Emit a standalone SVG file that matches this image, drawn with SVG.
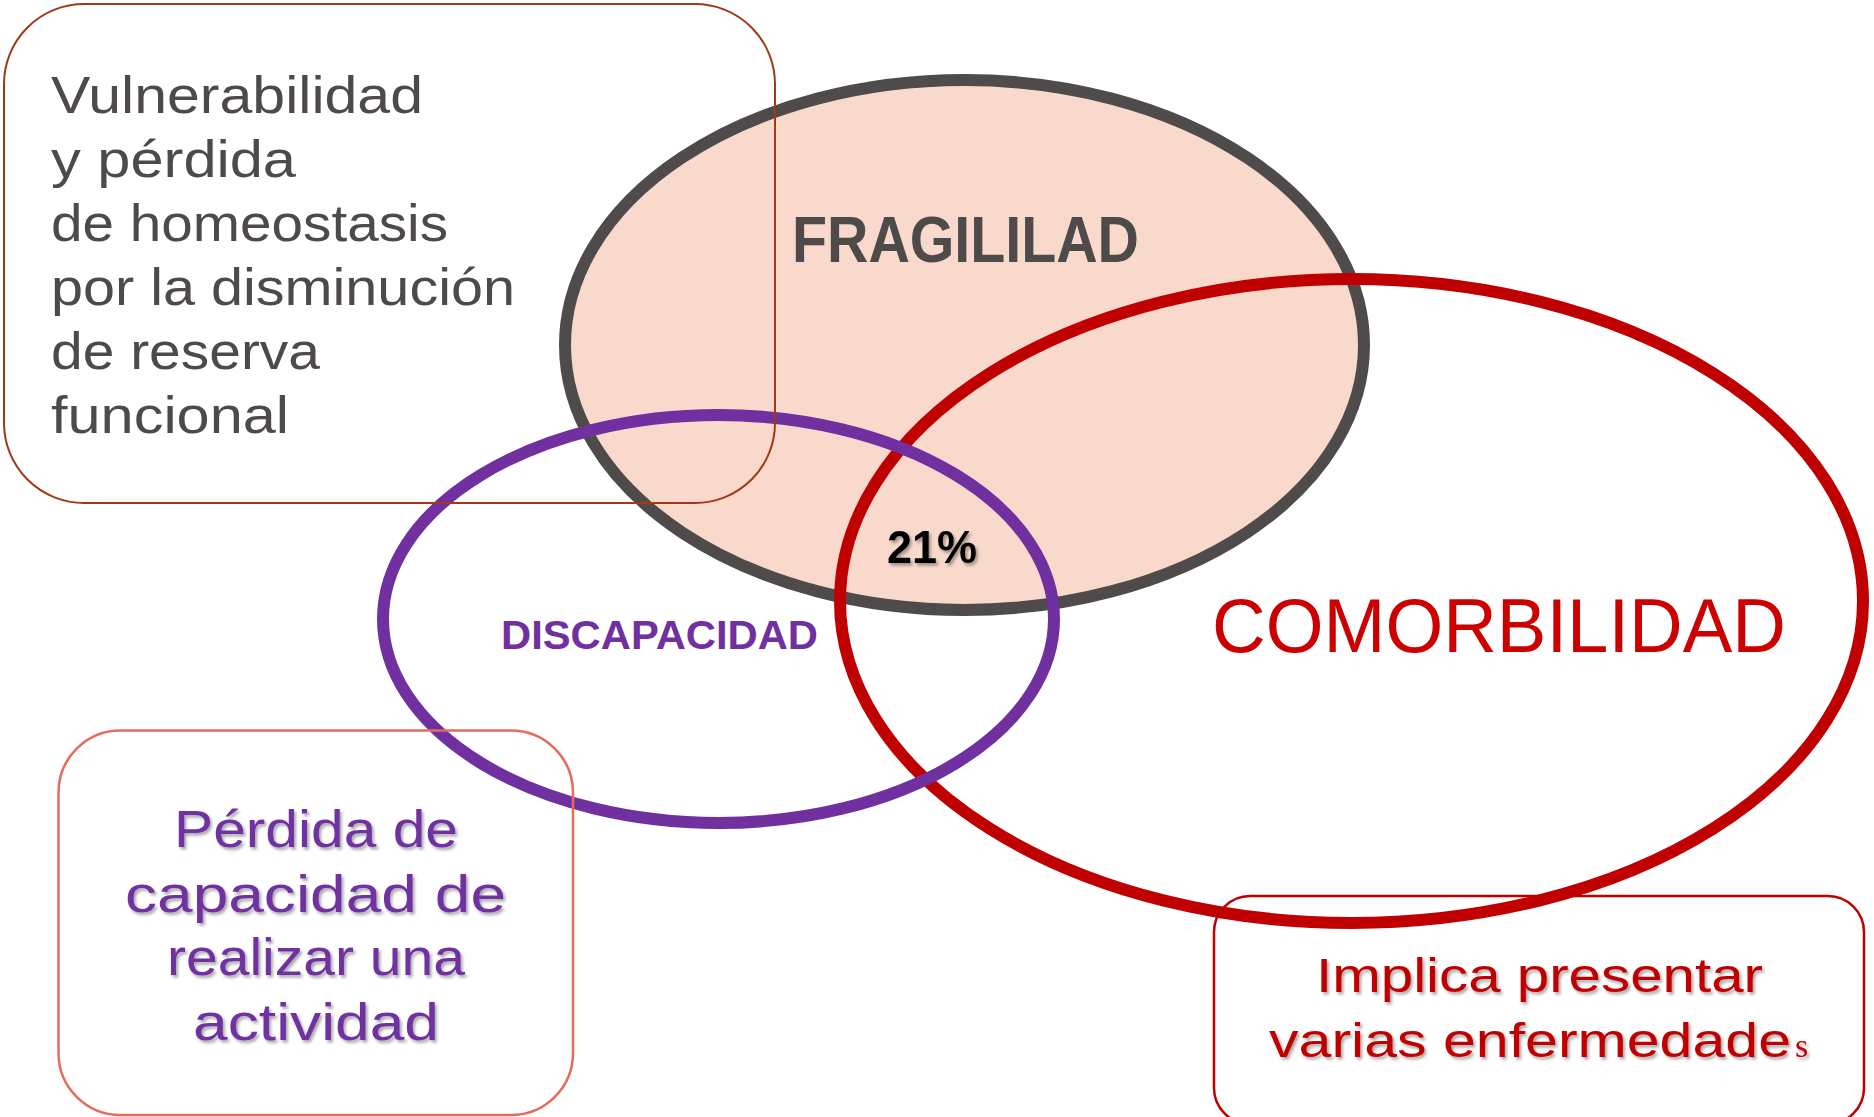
<svg xmlns="http://www.w3.org/2000/svg" width="1874" height="1117" viewBox="0 0 1874 1117">
<defs>
<style>
.t{font-family:"Liberation Sans",Arial,sans-serif}
.b{font-weight:bold}
.gray{fill:#4F4A4A}
.purple{fill:#7030A0}
.red{fill:#C00000}
.box{fill:none}
</style>
<filter id="sh" x="-10%" y="-20%" width="120%" height="150%">
<feDropShadow dx="2" dy="2.5" stdDeviation="1.5" flood-color="#000" flood-opacity="0.35"/>
</filter>
</defs>
<rect width="1874" height="1117" fill="#FFFFFF"/>
<g id="fragilidad">
<ellipse cx="964.5" cy="345" rx="399.5" ry="265" fill="#F8D9CC" stroke="#4F4B4B" stroke-width="12"/>
</g>
<g id="comorbilidad">
<ellipse cx="1351.5" cy="601" rx="511.5" ry="322" fill="none" stroke="#C00000" stroke-width="12"/>
</g>
<g id="discapacidad">
<ellipse cx="718.5" cy="619" rx="335.5" ry="204" fill="none" stroke="#7030A0" stroke-width="12"/>
</g>
<g id="box-fragilidad">
<rect class="box" x="4" y="4" width="771" height="499" rx="80" ry="80" stroke="#A0391A" stroke-width="2"/>
<g class="t gray" font-size="52">
<text x="51" y="113" textLength="372" lengthAdjust="spacingAndGlyphs">Vulnerabilidad</text>
<text x="51" y="177" textLength="245" lengthAdjust="spacingAndGlyphs">y pérdida</text>
<text x="51" y="241" textLength="397" lengthAdjust="spacingAndGlyphs">de homeostasis</text>
<text x="51" y="305" textLength="464" lengthAdjust="spacingAndGlyphs">por la disminución</text>
<text x="51" y="369" textLength="269" lengthAdjust="spacingAndGlyphs">de reserva</text>
<text x="51" y="433" textLength="238" lengthAdjust="spacingAndGlyphs">funcional</text>
</g>
</g>
<g id="box-discapacidad">
<rect class="box" x="58.5" y="730.5" width="514.5" height="384.5" rx="62" ry="62" stroke="#E46C5A" stroke-width="2.5"/>
<g class="t purple" font-size="52" filter="url(#sh)">
<text x="174" y="847" textLength="284" lengthAdjust="spacingAndGlyphs">Pérdida de</text>
<text x="125" y="912" textLength="381" lengthAdjust="spacingAndGlyphs">capacidad de</text>
<text x="167" y="975" textLength="298" lengthAdjust="spacingAndGlyphs">realizar una</text>
<text x="193" y="1040" textLength="246" lengthAdjust="spacingAndGlyphs">actividad</text>
</g>
</g>
<g id="box-comorbilidad">
<rect class="box" x="1214" y="896" width="650" height="228" rx="36" ry="36" stroke="#C00000" stroke-width="2.5"/>
<g class="t red" font-size="48" filter="url(#sh)">
<text x="1316" y="992" textLength="447" lengthAdjust="spacingAndGlyphs">Implica presentar</text>
<text x="1269" y="1057" textLength="522" lengthAdjust="spacingAndGlyphs">varias enfermedade</text>
<text x="1795" y="1057" font-family="Liberation Serif,serif" font-size="34">s</text>
</g>
</g>
<g id="labels">
<text class="t b gray" x="792" y="262" font-size="65" textLength="347" lengthAdjust="spacingAndGlyphs">FRAGILILAD</text>
<text class="t b purple" x="501" y="649" font-size="40" textLength="317" lengthAdjust="spacingAndGlyphs">DISCAPACIDAD</text>
<text class="t" x="1212" y="652" font-size="76" fill="#CC0000" textLength="574" lengthAdjust="spacingAndGlyphs">COMORBILIDAD</text>
<text class="t b" x="887" y="563" font-size="46" fill="#000" filter="url(#sh)" textLength="90" lengthAdjust="spacingAndGlyphs">21%</text>
</g>
</svg>
